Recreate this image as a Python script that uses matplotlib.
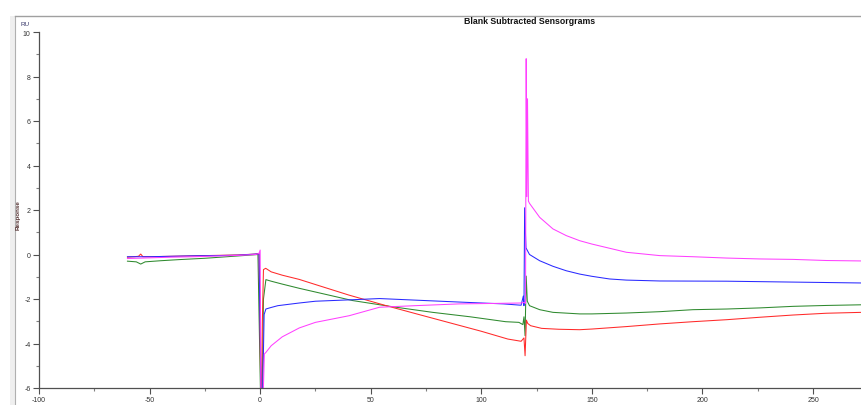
import matplotlib
matplotlib.use("Agg")
import matplotlib.pyplot as plt
from matplotlib.ticker import MultipleLocator
from matplotlib.patches import Rectangle
from matplotlib.lines import Line2D

plt.rcParams['font.family'] = ['Liberation Sans', 'DejaVu Sans']
plt.rcParams['axes.unicode_minus'] = False

# Sensorgram traces: time (s) and response (RU)
red_t = [-60, -57, -55, -54, -53, -50, -40, -30, -20, -10, -2, -0.5, 0.2, 0.5, 1.0, 1.5, 2.5, 5, 10, 17.7,
         25, 40, 57, 70, 85, 100, 112, 118, 119.3, 119.8, 120.4, 121, 122.3, 127.3, 135, 144.5, 150, 165.6,
         180.7, 195.7, 211, 226, 241, 256, 272]
red_v = [-0.12, -0.1, -0.08, 0.02, -0.1, -0.1, -0.08, -0.06, -0.04, -0.02, 0.02, 0.05, -5.6, -7, -3, -0.68,
         -0.62, -0.78, -0.93, -1.12, -1.35, -1.82, -2.3, -2.65, -3.05, -3.45, -3.8, -3.9, -3.75, -4.55, -2.95,
         -3.1, -3.2, -3.32, -3.36, -3.38, -3.35, -3.24, -3.12, -3.02, -2.93, -2.82, -2.72, -2.64, -2.6]

green_t = [-60, -56, -54, -52, -45, -36.7, -25, -15, -5, -1, 0.3, 0.8, 1.5, 2.6, 5, 10, 17.7, 30, 41.8, 60,
           78, 95, 111, 117, 118.8, 119.3, 119.8, 120.3, 120.8, 121.8, 126.4, 132.4, 144.5, 150, 165.6,
           180.7, 195.7, 211, 226, 241, 256, 272]
green_v = [-0.3, -0.33, -0.43, -0.33, -0.28, -0.23, -0.17, -0.1, -0.03, 0.0, -7, -7, -2.0, -1.13, -1.2, -1.33,
           -1.52, -1.8, -2.07, -2.35, -2.6, -2.8, -3.02, -3.05, -3.15, -2.8, -3.65, -0.97, -2.1, -2.3, -2.48,
           -2.6, -2.67, -2.67, -2.63, -2.57, -2.48, -2.45, -2.4, -2.33, -2.29, -2.26]

blue_t = [-60, -50, -40, -30, -20, -10, -2, -0.5, 0.5, 1.0, 1.8, 2.6, 5, 8, 12, 17.7, 25, 40, 54, 70, 93, 110,
          118, 119, 119.3, 119.6, 120.2, 121.8, 126.4, 132.4, 138.4, 144.5, 150, 158, 165.6, 180.7, 211, 241, 272]
blue_v = [-0.1, -0.1, -0.08, -0.06, -0.05, -0.03, 0.02, 0.03, -7, -7, -2.7, -2.45, -2.38, -2.3, -2.25, -2.18,
          -2.1, -2.04, -1.98, -2.05, -2.15, -2.22, -2.28, -1.87, -2.3, 2.1, 0.3, 0.0, -0.28, -0.53, -0.73,
          -0.88, -0.98, -1.1, -1.15, -1.19, -1.2, -1.24, -1.28]

magenta_t = [-60, -50, -40, -30, -20, -10, -2, -0.5, 0, 0.4, 1.2, 1.9, 2.6, 5, 10, 17.7, 25, 40.3, 54, 70, 90,
             105, 118, 119.5, 120.0, 120.3, 120.6, 120.9, 121.3, 121.8, 122.6, 126.4, 132.4, 138.4, 144.5,
             150, 165.6, 180.7, 195.7, 211, 226, 241, 256, 272]
magenta_v = [-0.18, -0.15, -0.12, -0.1, -0.07, -0.04, 0.0, 0.05, 0.2, -7, -7, -4.47, -4.4, -4.1, -3.7, -3.3,
             -3.05, -2.75, -2.37, -2.3, -2.22, -2.2, -2.18, -2.15, -2.2, 8.8, 2.6, 7.0, 2.4, 2.3, 2.19, 1.67,
             1.15, 0.85, 0.62, 0.47, 0.1, -0.05, -0.1, -0.16, -0.2, -0.22, -0.27, -0.29]

x_ticks = [-100, -50, 0, 50, 100, 150, 200, 250]
y_ticks = [-6, -4, -2, 0, 2, 4, 6, 8, 10]

W, H = 861, 406
fig = plt.figure(figsize=(W / 100, H / 100), dpi=100)
fig.patch.set_facecolor('white')

# panel frame: light grey strip on the left and a grey border line
fig.add_artist(Rectangle((10 / W, 0), 5 / W, 1 - 17 / H, transform=fig.transFigure,
                         facecolor='#efefef', edgecolor='none'))
fig.add_artist(Line2D([15 / W, 15 / W], [0, 1 - 17 / H], transform=fig.transFigure,
                      color='#b0b0b0', lw=0.8))
fig.add_artist(Line2D([15 / W, 1], [1 - 17 / H, 1 - 17 / H], transform=fig.transFigure,
                      color='#a0a0a0', lw=1.0))

ax = fig.add_axes([39 / W, 17 / H, 1 - 39 / W, (389 - 33) / H])
ax.set_xlim(-100, 271.7)
ax.set_ylim(-6, 10)

ax.plot(green_t, green_v, color='#2f8a2f', lw=0.75)
ax.plot(red_t, red_v, color='#ff2a2a', lw=0.75)
ax.plot(blue_t, blue_v, color='#2a2aff', lw=0.75)
ax.plot(magenta_t, magenta_v, color='#ff40ff', lw=0.75)

for s in ['top', 'right']:
    ax.spines[s].set_visible(False)
for s in ['left', 'bottom']:
    ax.spines[s].set_color('#505050')
    ax.spines[s].set_linewidth(0.9)

ax.set_xticks(x_ticks)
ax.set_yticks(y_ticks)
ax.xaxis.set_minor_locator(MultipleLocator(25))
ax.yaxis.set_minor_locator(MultipleLocator(1))
ax.tick_params(which='major', length=4, width=0.8, color='#505050', labelsize=5, labelcolor='#333333', pad=2)
ax.tick_params(which='minor', length=2, width=0.8, color='#808080')

fig.text(530 / W, 1 - 22 / H, 'Blank Subtracted Sensorgrams', ha='center', va='center',
         fontsize=6.3, fontweight='bold', color='#111111')
fig.text(25 / W, 1 - 24 / H, 'RU', ha='center', va='center', fontsize=4.5, color='#333366')
fig.text(18 / W, 1 - 215 / H, 'Response', ha='center', va='center', rotation=90,
         fontsize=4.5, fontweight='bold', color='#553333')

fig.savefig('out.png', dpi=100)
